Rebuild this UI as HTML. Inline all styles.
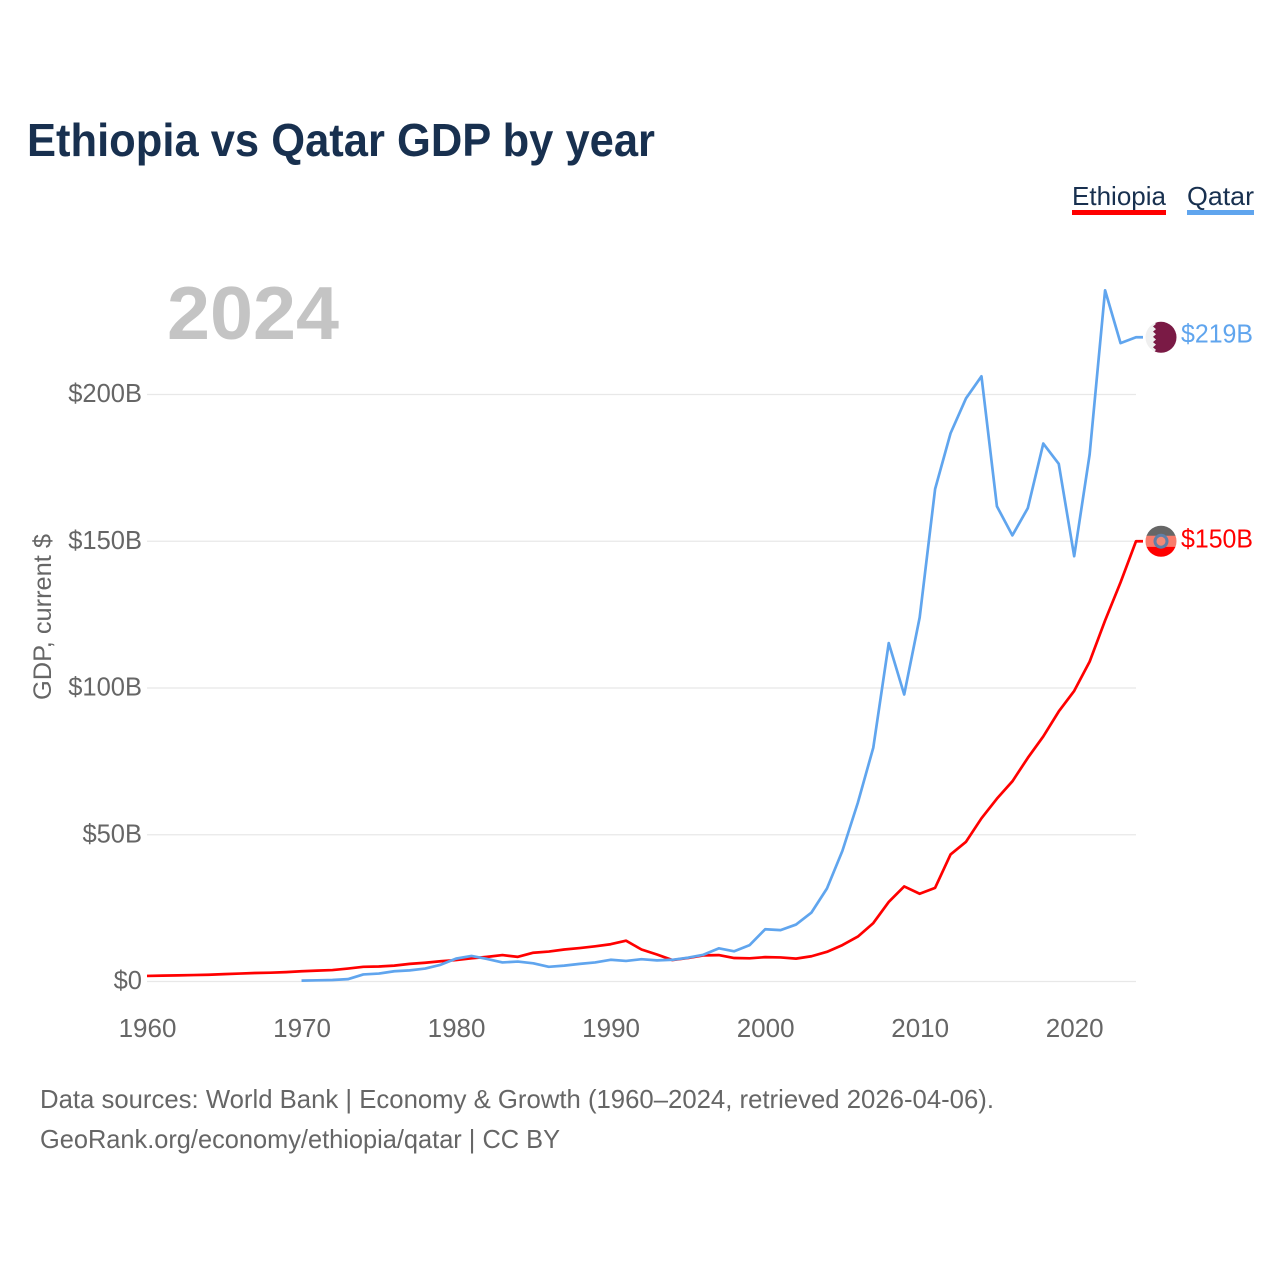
<!DOCTYPE html>
<html lang="en">
<head>
<meta charset="utf-8">
<title>Ethiopia vs Qatar GDP by year</title>
<style>
html,body{margin:0;padding:0;background:#fff;width:1280px;height:1280px;overflow:hidden}
svg{display:block;font-family:"Liberation Sans",sans-serif}
</style>
</head>
<body>
<svg id="chart" width="1280" height="1280" viewBox="0 0 1280 1280" xmlns="http://www.w3.org/2000/svg">
  <defs>
    <clipPath id="qatar-clip"><circle cx="0" cy="0" r="15.5"/></clipPath>
    <clipPath id="ethiopia-clip"><circle cx="0" cy="0" r="15.5"/></clipPath>
  </defs>
  <text x="27" y="156" font-size="46" font-weight="700" fill="#18304f" textLength="628" lengthAdjust="spacingAndGlyphs">Ethiopia vs Qatar GDP by year</text>

  <g>
    <g>
      <text x="1072" y="205" font-size="26" fill="#18304f" textLength="94" lengthAdjust="spacingAndGlyphs">Ethiopia</text>
      <rect x="1072" y="210" width="94" height="5" fill="#ff0000"/>
    </g>
    <g>
      <text x="1187" y="205" font-size="26" fill="#18304f" textLength="67" lengthAdjust="spacingAndGlyphs">Qatar</text>
      <rect x="1187" y="210" width="67" height="5" fill="#60a5ee"/>
    </g>
  </g>

  <text x="167" y="339" font-size="75" font-weight="700" fill="#c4c4c4" textLength="172" lengthAdjust="spacingAndGlyphs">2024</text>
  <text transform="translate(51 700) rotate(-90)" font-size="25" fill="#666666" textLength="166" lengthAdjust="spacingAndGlyphs">GDP, current $</text>

  <g id="grid"></g>
  <g id="y-ticks"></g>
  <g id="x-ticks"></g>
  <g id="series"></g>
  <g id="end-markers"></g>

  <text x="40" y="1108" font-size="26" fill="#666666" textLength="954" lengthAdjust="spacingAndGlyphs">Data sources: World Bank | Economy &amp; Growth (1960–2024, retrieved 2026-04-06).</text>
  <text x="40" y="1148" font-size="26" fill="#666666" textLength="520" lengthAdjust="spacingAndGlyphs">GeoRank.org/economy/ethiopia/qatar | CC BY</text>
</svg>
<script>
const years = [1960,1961,1962,1963,1964,1965,1966,1967,1968,1969,1970,1971,1972,1973,1974,1975,1976,1977,1978,1979,1980,1981,1982,1983,1984,1985,1986,1987,1988,1989,1990,1991,1992,1993,1994,1995,1996,1997,1998,1999,2000,2001,2002,2003,2004,2005,2006,2007,2008,2009,2010,2011,2012,2013,2014,2015,2016,2017,2018,2019,2020,2021,2022,2023,2024];
const ethiopiaValues = [1.9,2.0,2.1,2.2,2.3,2.5,2.7,2.9,3.0,3.2,3.5,3.7,3.9,4.4,5.0,5.1,5.4,6.0,6.4,6.9,7.3,7.9,8.4,9.0,8.4,9.8,10.2,10.9,11.4,12.0,12.7,13.9,10.9,9.2,7.3,8.0,8.9,9.0,8.0,7.9,8.3,8.2,7.8,8.6,10.1,12.4,15.3,19.9,27.1,32.4,29.9,31.9,43.3,47.6,55.6,62.3,68.2,76.2,83.5,92.0,99.0,109.0,123.0,136.0,150.0];
const qatarValues = [null,null,null,null,null,null,null,null,null,null,0.3,0.4,0.5,0.8,2.4,2.7,3.5,3.8,4.4,5.7,7.8,8.7,7.7,6.5,6.8,6.2,5.0,5.4,6.0,6.5,7.4,7.0,7.6,7.2,7.4,8.1,9.1,11.3,10.3,12.4,17.8,17.5,19.4,23.5,31.7,44.5,60.9,79.7,115.3,97.8,124.0,167.8,186.8,198.7,206.2,161.9,152.0,161.3,183.3,176.4,144.9,179.6,235.5,217.5,219.5];
const yTickValues = [0,50,100,150,200];
const yTickLabels = ["$0","$50B","$100B","$150B","$200B"];
const xTickValues = [1960,1970,1980,1990,2000,2010,2020];
const ethiopiaEndLabel = "$150B";
const qatarEndLabel = "$219B";

const SVGNS = "http://www.w3.org/2000/svg";
function xScale(year){ return 147 + (year - 1960) * (1136 - 147) / (2024 - 1960); }
function yScale(v){ return 981.5 - v * (981.5 - 394.5) / 200; }
function make(tag, attrs, parent){
  const el = document.createElementNS(SVGNS, tag);
  for (const k in attrs) el.setAttribute(k, attrs[k]);
  parent.appendChild(el);
  return el;
}

const gridG = document.getElementById('grid');
const yG = document.getElementById('y-ticks');
yTickValues.forEach(function(v, i){
  const line = make('line', {x1:147, x2:1136, y1:yScale(v), y2:yScale(v), stroke:'#e8e8e8', 'stroke-width':1.2}, gridG);
  
  
  const t = make('text', {x:142, y:yScale(v)+7.5, 'text-anchor':'end', 'font-size':25.5, fill:'#666666'}, yG);
  t.textContent = yTickLabels[i];
  
  
});

const xG = document.getElementById('x-ticks');
xTickValues.forEach(function(yr){
  const t = make('text', {x:xScale(yr)+0.5, y:1037, 'text-anchor':'middle', 'font-size':26, fill:'#666666'}, xG);
  t.textContent = String(yr);
  
  
});

function linePath(values){
  let d = '';
  let lastX = 0;
  let lastY = 0;
  values.forEach(function(v, i){
    if (v === null) return;
    lastX = xScale(years[i]);
    lastY = yScale(v);
    d += (d === '' ? 'M' : 'L') + lastX.toFixed(2) + ' ' + lastY.toFixed(2);
  });
  return d + 'L' + (lastX + 7).toFixed(2) + ' ' + lastY.toFixed(2);
}
const seriesG = document.getElementById('series');
const ethiopiaLine = make('path', {d:linePath(ethiopiaValues), fill:'none', stroke:'#ff0000', 'stroke-width':2.7, 'stroke-linejoin':'round'}, seriesG);


const qatarLine = make('path', {d:linePath(qatarValues), fill:'none', stroke:'#60a5ee', 'stroke-width':2.7, 'stroke-linejoin':'round'}, seriesG);



const markers = document.getElementById('end-markers');
const qatarEndY = yScale(qatarValues[qatarValues.length - 1]);
const ethiopiaEndY = yScale(ethiopiaValues[ethiopiaValues.length - 1]);

const qatarFlag = make('g', {transform:'translate(1161 ' + qatarEndY + ')', 'clip-path':'url(#qatar-clip)'}, markers);


make('rect', {x:-16, y:-16, width:32, height:32, fill:'#efefef'}, qatarFlag);
make('path', {d:'M16 -16L-8 -16L-5 -13.4L-8 -10.8L-5 -8.2L-8 -5.6L-5 -3L-8 -0.4L-5 2.2L-8 4.8L-5 7.4L-8 10L-5 12.6L-8 16L16 16Z', fill:'#7a1a45'}, qatarFlag);

const ethiopiaFlag = make('g', {transform:'translate(1161 ' + ethiopiaEndY + ')', 'clip-path':'url(#ethiopia-clip)'}, markers);


make('rect', {x:-16, y:-16, width:32, height:11, fill:'#666666'}, ethiopiaFlag);
make('rect', {x:-16, y:-5.5, width:32, height:11, fill:'#f87c6c'}, ethiopiaFlag);
make('rect', {x:-16, y:5.5, width:32, height:11, fill:'#ff0000'}, ethiopiaFlag);
make('circle', {cx:0, cy:0, r:7.5, fill:'#5f7fa8'}, ethiopiaFlag);
make('circle', {cx:0, cy:0, r:4.5, fill:'#f08a78'}, ethiopiaFlag);

const qatarLabel = make('text', {x:1181, y:qatarEndY+5, 'font-size':25.5, fill:'#60a5ee', textLength:72, lengthAdjust:'spacingAndGlyphs'}, markers);
qatarLabel.textContent = qatarEndLabel;


const ethiopiaLabel = make('text', {x:1181, y:ethiopiaEndY+6, 'font-size':25.5, fill:'#ff0000', textLength:72, lengthAdjust:'spacingAndGlyphs'}, markers);
ethiopiaLabel.textContent = ethiopiaEndLabel;


</script>
</body>
</html>
